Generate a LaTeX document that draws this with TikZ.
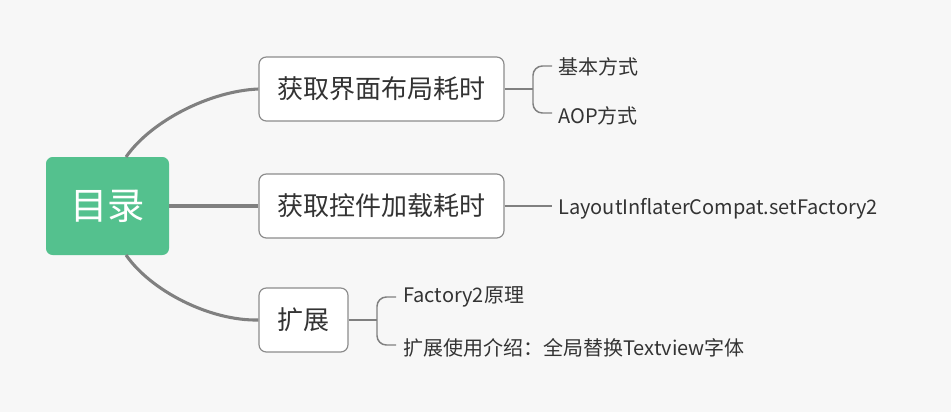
\documentclass[tikz,border=0pt]{standalone}
\usepackage{fontspec}
\setmainfont{Noto Sans CJK SC}
\begin{document}
\begin{tikzpicture}[x=0.75pt,y=-0.75pt,
  box/.style={draw=boxline,line width=0.9pt,fill=white,rounded corners=5.5pt,minimum height=48pt,inner xsep=0pt,text=txt,font=\fontsize{19.5pt}{22pt}\selectfont},
  leaf/.style={anchor=west,inner sep=0pt,text=txt,font=\fontsize{15pt}{18pt}\selectfont},
  main/.style={draw=conn,line width=2.3pt},
  sub/.style={draw=conn,line width=1.1pt},
]
\definecolor{bg}{RGB}{247,247,247}
\definecolor{boxline}{RGB}{140,140,140}
\definecolor{conn}{RGB}{128,128,128}
\definecolor{txt}{RGB}{51,51,51}
\definecolor{rootg}{RGB}{84,193,142}
\fill[bg] (0,0) rectangle (951,412);
\useasboundingbox (0,0) rectangle (951,412);

\node[fill=rootg,rounded corners=5pt,minimum width=92.25pt,minimum height=73.5pt,text=white,font=\fontsize{28pt}{32pt}\selectfont,inner sep=0pt] (root) at (107.5,206) {目录};

\node[box,minimum width=183.75pt] (b1) at (381.5,89) {获取界面布局耗时};
\node[box,minimum width=183.75pt] (b2) at (381.5,206) {获取控件加载耗时};
\node[box,minimum width=66.75pt] (b3) at (303.5,320) {扩展};

\coordinate (r1) at (126,157);
\coordinate (r3) at (126,255);
\draw[main] (r1) .. controls (151,121) and (210,91) .. (b1.west);
\draw[main] (root.east) -- (b2.west);
\draw[main] (r3) .. controls (151,291) and (210,321) .. (b3.west);

% branch 1
\coordinate (k1) at (533,89);
\coordinate (t1) at (552,66);
\coordinate (u1) at (552,113);
\node[leaf] (l11) at (558,67) {基本方式};
\node[leaf] (l12) at (558,116) {AOP方式};
\draw[sub] (b1.east) -- (k1);
\draw[sub,rounded corners=7pt] (t1) -| (k1) |- (u1);

% branch 2
\coordinate (k2) at (552,206);
\node[leaf] (l21) at (558,209) {LayoutInflaterCompat.setFactory2};
\draw[sub] (b2.east) -- (k2);

% branch 3
\coordinate (k3) at (377,320);
\coordinate (t3) at (396,297);
\coordinate (u3) at (396,345);
\node[leaf] (l31) at (403,297) {Factory2原理};
\node[leaf] (l32) at (403,348) {扩展使用介绍：全局替换Textview字体};
\draw[sub] (b3.east) -- (k3);
\draw[sub,rounded corners=7pt] (t3) -| (k3) |- (u3);
\end{tikzpicture}
\end{document}
